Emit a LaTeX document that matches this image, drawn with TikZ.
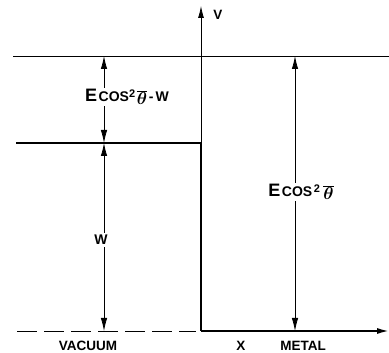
\documentclass[tikz,border=0pt]{standalone}
\usepackage{fontspec}
\setsansfont{Liberation Sans}
\usepackage{tikz}
\usetikzlibrary{arrows.meta}
\newcommand{\ecos}{{\fontsize{18}{18}\selectfont E}\,{\fontsize{14}{14}\selectfont COS}}
\newcommand{\sqr}{\raisebox{4pt}{\fontsize{11}{11}\selectfont 2}}
\newcommand{\thbar}{\raisebox{-2.5pt}{\fontsize{16}{16}\selectfont$\overline{\theta}$}}

\begin{document}
\begin{tikzpicture}[x=1pt, y=1pt, font=\sffamily\bfseries\boldmath,
    dim/.style={{Latex[length=13pt,width=6.5pt]}-{Latex[length=13pt,width=6.5pt]}, line width=0.8pt},
    axis/.style={-{Latex[length=12pt,width=6pt]}, line width=0.8pt},
    lbl/.style={fill=white, inner sep=2pt},
    tag/.style={inner sep=1pt, font=\sffamily\bfseries\fontsize{13.5}{14}\selectfont}]
    \useasboundingbox (0,0) rectangle (389,353);
    % levels
    \coordinate (topL) at (13,297);  \coordinate (topR) at (389,297);
    \coordinate (stepL) at (16,210); \coordinate (corner) at (201,210);
    \coordinate (foot) at (201,22);  \coordinate (xend) at (389,22);
    \coordinate (dashL) at (17,22);  \coordinate (dashR) at (196,22);
    \coordinate (vtop) at (201,347);
    \coordinate (a1) at (104,297); \coordinate (a2) at (104,210); \coordinate (a3) at (104,22);
    \coordinate (b1) at (295,297); \coordinate (b2) at (295,22);
    % lines
    \draw[line width=0.9pt] (topL) -- (topR);
    \draw[line width=1.7pt] (stepL) -- (corner) -- (foot);
    \draw[axis, line width=1.7pt] (foot) -- (xend);
    \draw[line width=0.8pt, dash pattern=on 20pt off 7pt] (dashL) -- (dashR);
    \draw[axis] (corner) -- (vtop);
    % dimension arrows
    \draw[dim] (a2) -- (a1);
    \draw[dim] (a2) -- (a3);
    \draw[dim] (b2) -- (b1);
    % labels
    \node[lbl] (ew) at (127,256) {\ecos\sqr\,\thbar\,{\fontsize{14}{14}\selectfont -\,W}};
    \node[lbl] (w) at (101,113) {\fontsize{14}{14}\selectfont W};
    \node[lbl] (ec) at (301,161) {\ecos\,\sqr\,\,\thbar};
    \node[tag] (v) at (218,338) {V};
    \node[tag] (vac) at (88,7) {VACUUM};
    \node[tag] (x) at (241,7) {X};
    \node[tag] (met) at (303,7) {METAL};
\end{tikzpicture}
\end{document}
